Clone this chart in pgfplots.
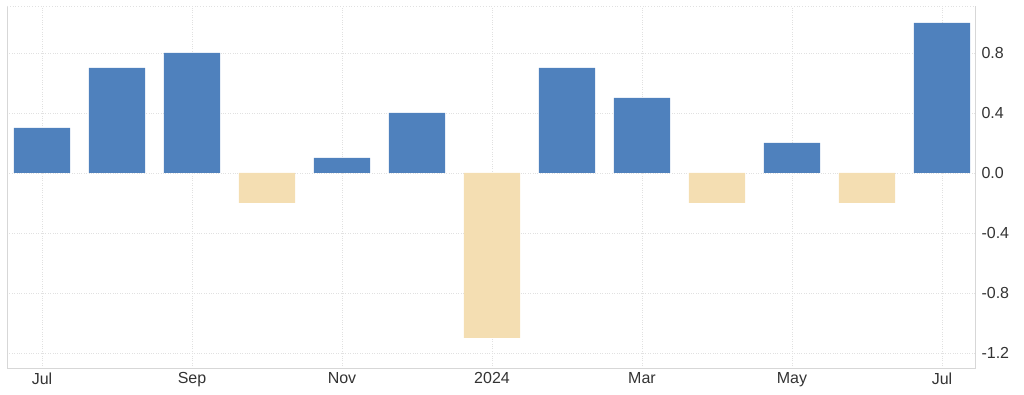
\documentclass[border=0pt]{standalone}
\usepackage{pgfplots}
\pgfplotsset{compat=1.18}
\usepackage{fontspec}
\setmainfont{Liberation Sans}
\definecolor{barblue}{RGB}{79,129,189}
\definecolor{barwheat}{RGB}{244,222,178}
\definecolor{gridc}{RGB}{225,225,225}
\definecolor{axc}{RGB}{215,215,215}
\definecolor{txt}{RGB}{51,51,51}
\begin{document}
\begin{tikzpicture}
\useasboundingbox (0,0) rectangle (1024pt,395pt);
\begin{axis}[
  at={(7pt,27pt)}, anchor=south west,
  scale only axis, width=968pt, height=362pt,
  xmin=-0.467, xmax=12.44, ymin=-1.3, ymax=1.113,
  axis line style={draw=none},
  xtick={0,2,4,6,8,10,12},
  xticklabels={Jul,Sep,Nov,2024,Mar,May,Jul},
  ytick={-1.2,-0.8,-0.4,0,0.4,0.8},
  yticklabel pos=right,
  /pgf/number format/fixed,
  /pgf/number format/fixed zerofill,
  /pgf/number format/precision=1,
  /pgf/number format/assume math mode=true,
  ticklabel style={font=\fontsize{16}{18}\selectfont, text=txt},
  xticklabel style={yshift=-1pt},
  yticklabel style={xshift=3pt},
  major tick length=0pt,
  grid=major,
  major grid style={draw=gridc, dotted, line width=0.8pt},
  bar width=0.75,
  clip=false,
]
\draw[axc, line width=0.8pt] (rel axis cs:0,1) -- (rel axis cs:0,0) -- (rel axis cs:1,0) -- (rel axis cs:1,1);
\draw[gridc, dotted, line width=0.8pt] (rel axis cs:0,1) -- (rel axis cs:1,1);
\addplot[ybar, bar shift=0pt, fill=barblue, draw=none] coordinates {
 (0,0.3) (1,0.7) (2,0.8) (4,0.1) (5,0.4) (7,0.7) (8,0.5) (10,0.2) (12,1.0)};
\addplot[ybar, bar shift=0pt, fill=barwheat, draw=none] coordinates {
 (3,-0.2) (6,-1.1) (9,-0.2) (11,-0.2)};
\end{axis}
\end{tikzpicture}
\end{document}
